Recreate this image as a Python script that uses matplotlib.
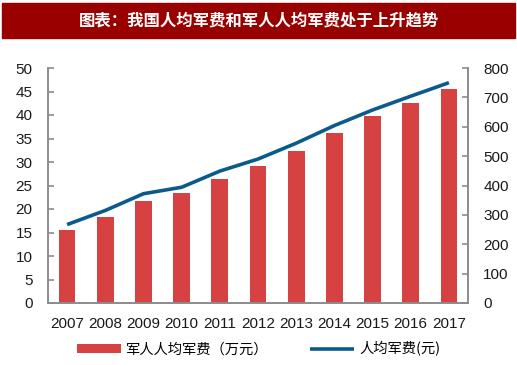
import matplotlib.pyplot as plt
from matplotlib.patches import Rectangle
import numpy as np

plt.rcParams['font.family'] = ['Liberation Sans', 'Noto Sans CJK SC', 'DejaVu Sans']

# data
years = ['2007', '2008', '2009', '2010', '2011', '2012', '2013', '2014', '2015', '2016', '2017']
soldier_cost = [15.6, 18.4, 21.7, 23.4, 26.3, 29.1, 32.4, 36.2, 39.7, 42.6, 45.5]   # 万元
person_cost = [267, 315, 372, 394, 449, 490, 544, 604, 657, 704, 750]               # 元

title = '图表：我国人均军费和军人人均军费处于上升趋势'
bar_label = '军人人均军费（万元）'
line_label = '人均军费(元)'

bar_color = '#D64242'
line_color = '#0B5A8C'
axis_color = '#8C8C8C'

fig = plt.figure(figsize=(5.17, 3.65), dpi=100)

# title banner
fig.patches.append(Rectangle((2 / 517, 1 - 38 / 365), 513 / 517, 35 / 365,
                             transform=fig.transFigure, color='#990000', zorder=0))
fig.text(0.5, 1 - 20.5 / 365, title, color='white', fontsize=11.8, fontweight='bold',
         ha='center', va='center', family=['Noto Sans CJK SC'])

ax = fig.add_axes([48 / 517, 62 / 365, 420 / 517, 235 / 365])
x = np.arange(len(years))
bars = ax.bar(x, soldier_cost, width=0.44, color=bar_color, label=bar_label, zorder=2)
ax.set_xlim(-0.5, len(years) - 0.5)
ax.set_ylim(0, 50)
ax.set_yticks(np.arange(0, 51, 5))
ax.set_xticks(x)
ax.set_xticklabels(years)

ax2 = ax.twinx()
line, = ax2.plot(x, person_cost, color=line_color, lw=2.6, solid_capstyle='butt',
                 solid_joinstyle='round', label=line_label)
ax2.set_ylim(0, 800)
ax2.set_yticks(np.arange(0, 801, 100))

for a in (ax, ax2):
    a.spines['top'].set_visible(False)
    for s in ('left', 'right', 'bottom'):
        a.spines[s].set_color(axis_color)
        a.spines[s].set_linewidth(1.2)
    a.tick_params(axis='y', direction='in', length=4, width=1.2, color=axis_color,
                  labelsize=11, labelcolor='#1a1a1a', pad=11)
ax.tick_params(axis='x', length=0, labelsize=11, labelcolor='#1a1a1a', pad=10)

fig.legend([bars, line], [bar_label, line_label], loc='center',
           bbox_to_anchor=(0.5, 1 - 349 / 365), ncol=2, frameon=False,
           handlelength=3.1, handleheight=0.55, columnspacing=2.9,
           handletextpad=0.35, prop={'family': ['Noto Sans CJK SC'], 'size': 10.3})

fig.savefig('out.png', dpi=100)
